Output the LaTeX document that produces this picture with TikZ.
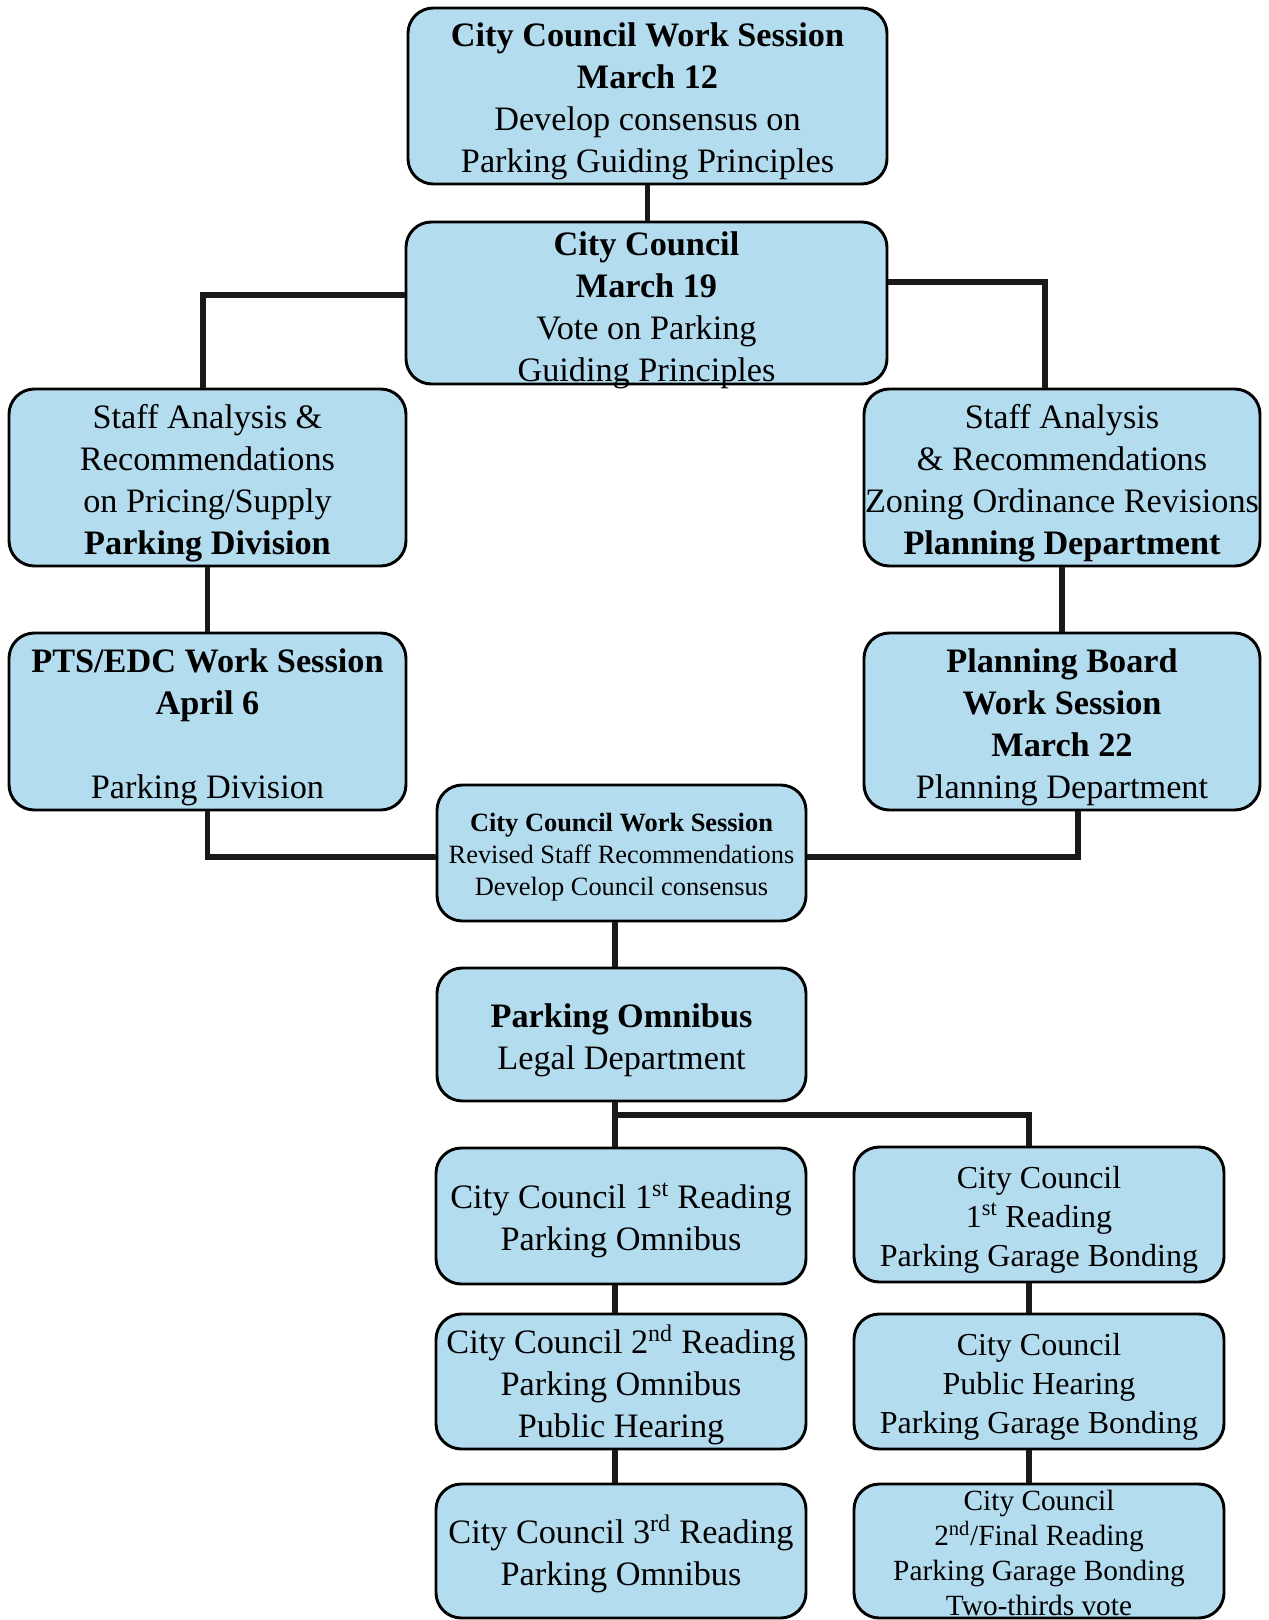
\documentclass[tikz,border=0pt]{standalone}
\usepackage{fontspec}
\setmainfont{Liberation Serif}
\definecolor{boxblue}{RGB}{180,220,239}
\newcommand\lowr{\rule{0pt}{1.03em}}
\newcommand\lowrto[1]{\rule{0pt}{#1}}
\begin{document}
\begin{tikzpicture}[x=0.75pt,y=-0.75pt,
  box/.style={draw=black, line width=2.2pt, rounded corners=19pt, fill=boxblue,
    align=center, inner sep=0pt, font=\fontsize{25.7}{31.5}\selectfont},
  smallbox/.style={box, font=\fontsize{19.8}{24}\selectfont},
  rbox/.style={box, font=\fontsize{24}{29}\selectfont},
  rrbox/.style={box, font=\fontsize{22}{26.3}\selectfont},
  conn/.style={line width=4pt, draw=black!90}]
\fill[white] (0,0) rectangle (1268,1620);
\useasboundingbox (0,0) rectangle (1268,1620);

\node[box, minimum width=359.25pt, minimum height=132pt] (b1) at (647.5,96)
  {\lowr\textbf{City Council Work Session}\\\textbf{March 12}\\Develop consensus on\\Parking Guiding Principles};
\node[box, minimum width=360.75pt, minimum height=121.5pt] (b2) at (646.5,303)
  {\lowrto{23.9pt}\textbf{City Council}\\\textbf{March 19}\\Vote on Parking\\\smash{Guiding Principles}};
\node[box, minimum width=297.75pt, minimum height=132.75pt] (b3) at (207.5,477.5)
  {\lowr Staff Analysis \&\\Recommendations\\on Pricing/Supply\\\textbf{Parking Division}};
\node[box, minimum width=297pt, minimum height=132.75pt] (b4) at (1062,477.5)
  {\lowr Staff Analysis\\\& Recommendations\\Zoning Ordinance Revisions\\\textbf{Planning Department}};
\node[box, minimum width=297.75pt, minimum height=132.75pt] (b5) at (207.5,721.5)
  {\lowr\textbf{PTS/EDC Work Session}\\\textbf{April 6}\\\mbox{}\\Parking Division};
\node[box, minimum width=297pt, minimum height=132.75pt] (b6) at (1062,721.5)
  {\lowr\textbf{Planning Board}\\\textbf{Work Session}\\\textbf{March 22}\\Planning Department};
\node[smallbox, minimum width=276.75pt, minimum height=102pt] (b7) at (621.5,853)
  {\lowr\textbf{City Council Work Session}\\Revised Staff Recommendations\\Develop Council consensus};
\node[box, minimum width=276.75pt, minimum height=99.75pt] (b8) at (621.5,1034.5)
  {\lowr\textbf{Parking Omnibus}\\Legal Department};
\node[box, minimum width=277.5pt, minimum height=102pt] (b9) at (621,1216)
  {\lowr City Council 1\textsuperscript{st} Reading\\Parking Omnibus};
\node[box, minimum width=277.5pt, minimum height=101.25pt] (b10) at (621,1381.5)
  {\lowr City Council 2\textsuperscript{nd} Reading\\Parking Omnibus\\Public Hearing};
\node[box, minimum width=277.5pt, minimum height=100.5pt] (b11) at (621,1551)
  {\lowr City Council 3\textsuperscript{rd} Reading\\Parking Omnibus};
\node[rbox, minimum width=277.5pt, minimum height=101.25pt] (b12) at (1039,1214.5)
  {\lowr City Council\\1\textsuperscript{st} Reading\\Parking Garage Bonding};
\node[rbox, minimum width=277.5pt, minimum height=101.25pt] (b13) at (1039,1381.5)
  {\lowr City Council\\Public Hearing\\Parking Garage Bonding};
\node[rrbox, minimum width=277.5pt, minimum height=100.5pt] (b14) at (1039,1551)
  {\lowrto{17.9pt}City Council\\2\textsuperscript{nd}/Final Reading\\Parking Garage Bonding\\\smash{Two-thirds vote}};

\coordinate (br) at (1029,1115);

\draw[conn] (b1.south) -- (b2.north -| b1.south);
\draw[conn] (b2.west |- 0,295) -| (b3.north -| 203,0);
\draw[conn] (b2.east |- 0,282) -| (b4.north -| 1045,0);
\draw[conn] (b3.south) -- (b5.north);
\draw[conn] (b4.south) -- (b6.north);
\draw[conn] (b5.south) |- (b7.west |- 0,857);
\draw[conn] (b6.south -| 1078,0) |- (b7.east |- 0,857);
\draw[conn] (b7.south -| 615,0) -- (b8.north -| 615,0);
\draw[conn] (b8.south -| 615,0) -- (b9.north -| 615,0);
\draw[conn] (b8.south -| 615,0) |- (br) -- (b12.north -| br);
\draw[conn] (b9.south -| 615,0) -- (b10.north -| 615,0);
\draw[conn] (b10.south -| 615,0) -- (b11.north -| 615,0);
\draw[conn] (b12.south -| br) -- (b13.north -| br);
\draw[conn] (b13.south -| br) -- (b14.north -| br);
\end{tikzpicture}
\end{document}
